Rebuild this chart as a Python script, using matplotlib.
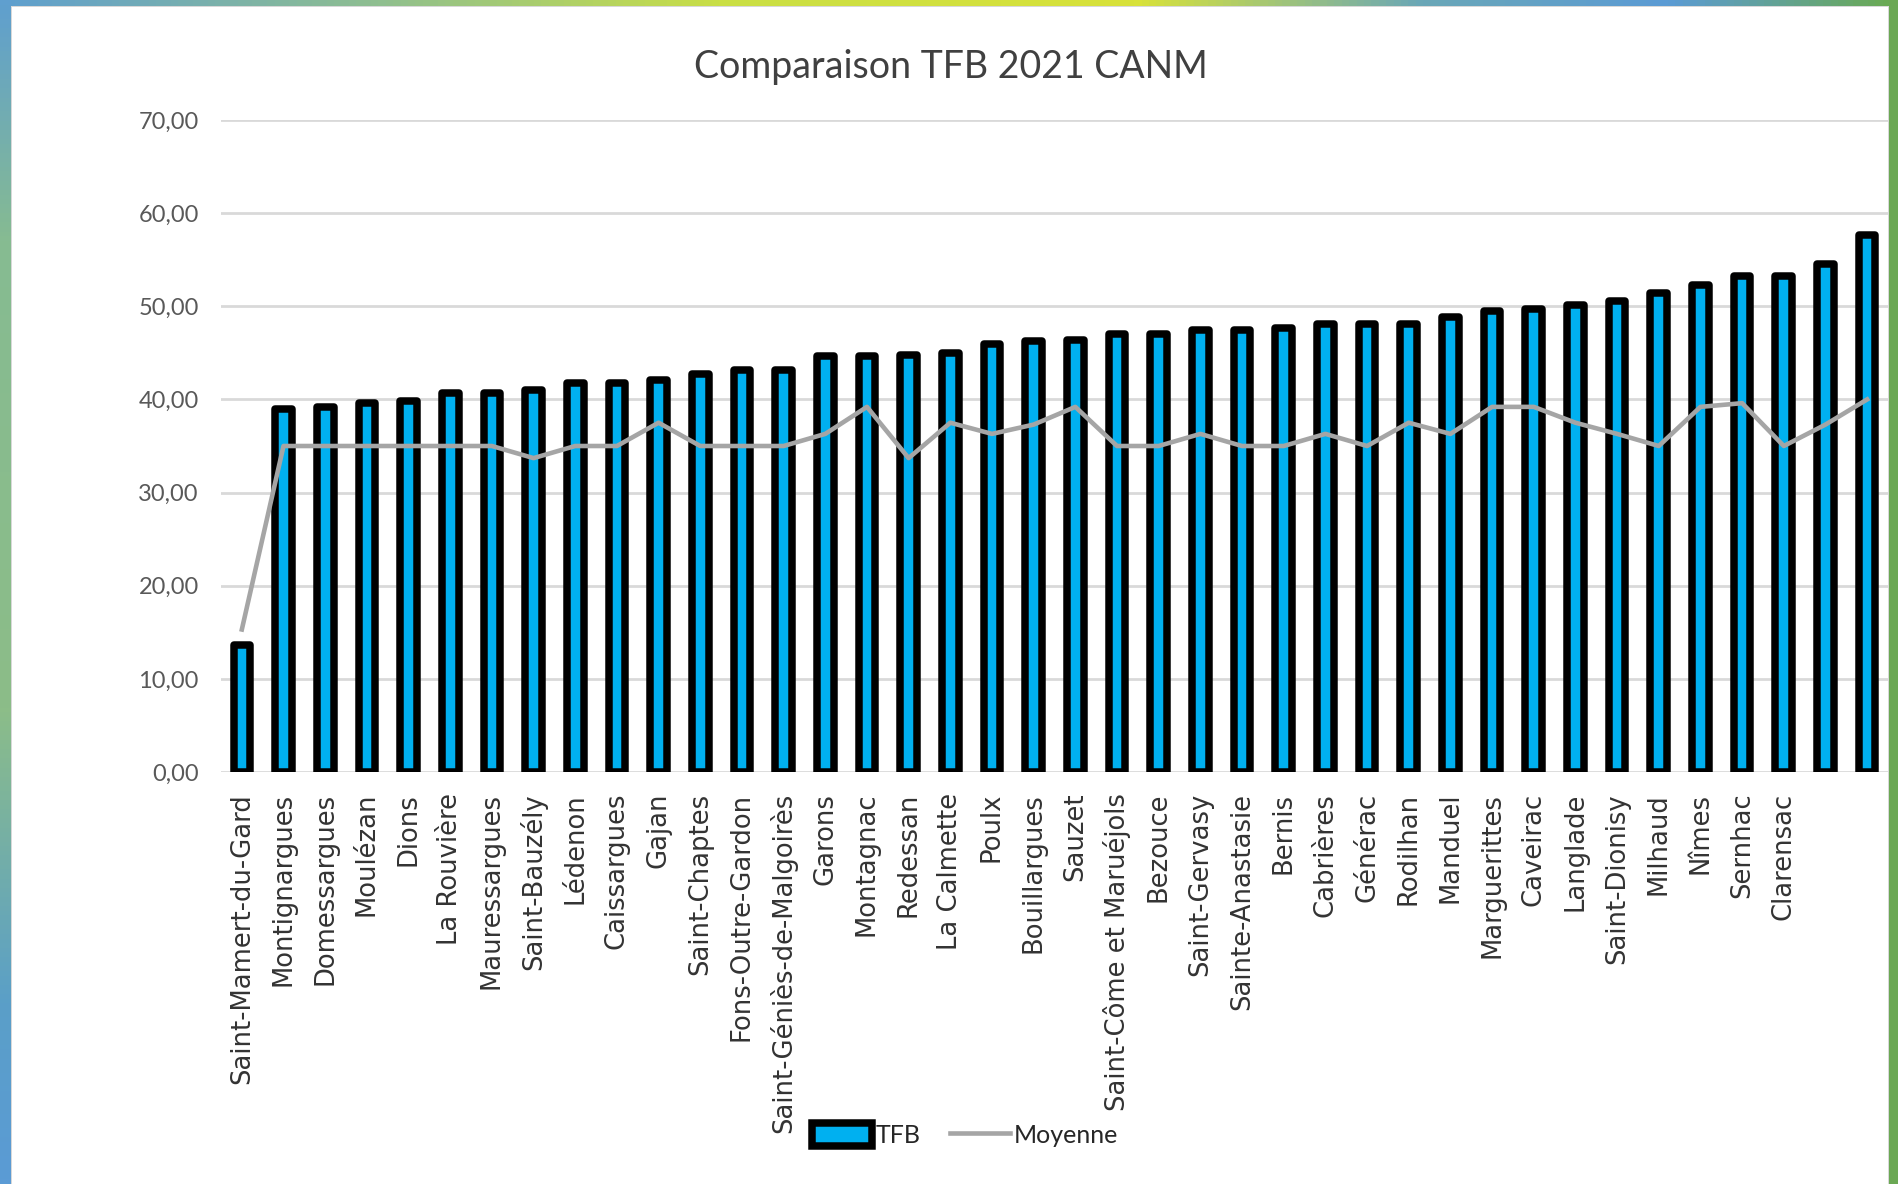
import numpy as np
import matplotlib
matplotlib.use("Agg")
import matplotlib.pyplot as plt
from matplotlib.colors import LinearSegmentedColormap

#------------------------------------------#
#------------------ DATA ------------------#
#------------------------------------------#
communes = ["Saint-Mamert-du-Gard", "Montignargues", "Domessargues", "Moulézan",
            "Dions", "La Rouvière", "Mauressargues", "Saint-Bauzély", "Lédenon",
            "Caissargues", "Gajan", "Saint-Chaptes", "Fons-Outre-Gardon",
            "Saint-Géniès-de-Malgoirès", "Garons", "Montagnac", "Redessan",
            "La Calmette", "Poulx", "Bouillargues", "Sauzet",
            "Saint-Côme et Maruéjols", "Bezouce", "Saint-Gervasy",
            "Sainte-Anastasie", "Bernis", "Cabrières", "Générac", "Rodilhan",
            "Manduel", "Marguerittes", "Caveirac", "Langlade", "Saint-Dionisy",
            "Milhaud", "Nîmes", "Sernhac", "Clarensac", "", ""]

tfb = [13.6, 39.0, 39.2, 39.6, 39.8, 40.7, 40.7, 41.0, 41.8, 41.8,
       42.1, 42.7, 43.2, 43.2, 44.7, 44.7, 44.8, 45.0, 45.9, 46.3,
       46.4, 47.0, 47.0, 47.5, 47.5, 47.7, 48.1, 48.1, 48.1, 48.8,
       49.5, 49.75, 50.1, 50.6, 51.4, 52.3, 53.25, 53.25, 54.5, 57.6]

moyenne = [15.3, 35.0, 35.0, 35.0, 35.0, 35.0, 35.0, 33.7, 35.0, 35.0,
           37.5, 35.0, 35.0, 35.0, 36.3, 39.2, 33.7, 37.5, 36.3, 37.3,
           39.2, 35.0, 35.0, 36.3, 35.0, 35.0, 36.3, 35.0, 37.5, 36.3,
           39.2, 39.2, 37.5, 36.3, 35.0, 39.2, 39.6, 35.0, 37.3, 40.0]

yticks = [0, 10, 20, 30, 40, 50, 60, 70]

narrow = ["Lato", "DejaVu Sans"]

#------------------------------------------#
#--------------- FIGURE -------------------#
#------------------------------------------#
W, H = 1898, 1184
fig = plt.figure(figsize=(W / 100, H / 100), dpi=100)

# gradient frame behind the white chart panel
bg = np.ones((H, W, 3))
top_cmap = LinearSegmentedColormap.from_list(
    "top", [(0.0, "#5f9fcf"), (0.2, "#8fbf8f"), (0.38, "#cadf45"),
            (0.6, "#d8e23a"), (0.75, "#6aa7b7"), (0.88, "#5b9bd5"),
            (1.0, "#6aaa50")])
left_cmap = LinearSegmentedColormap.from_list(
    "left", [(0.0, "#5f9fcf"), (0.2, "#86bb92"), (0.6, "#8cbd88"),
             (0.85, "#5a9fc8"), (1.0, "#5b9bd5")])
bg[:6, :, :] = top_cmap(np.linspace(0, 1, W))[:, :3][None, :, :]
bg[:, :11, :] = left_cmap(np.linspace(0, 1, H))[:, :3][:, None, :]
bg[:, 1889:, :] = np.array([0.42, 0.66, 0.33])
bg[6:, 11, :] = 0.85
bg[6, 11:1889, :] = 0.85
bg[6:, 1888, :] = 0.85
axbg = fig.add_axes([0, 0, 1, 1], zorder=-5)
axbg.imshow(bg, aspect="auto", interpolation="nearest")
axbg.axis("off")

ax = fig.add_axes([221 / W, 1 - 772 / H, (1888 - 221) / W, (772 - 120) / H])
ax.set_facecolor("none")

x = np.arange(len(communes))
bars = ax.bar(x, tfb, width=0.40, color="#00B0F0", edgecolor="black",
              linewidth=5.4, joinstyle="round", label="TFB", zorder=2)
line, = ax.plot(x, moyenne, color="#A5A5A5", linewidth=3.3,
                label="Moyenne", zorder=3)

ax.set_xlim(-0.5, len(communes) - 0.5)
ax.set_ylim(0, 70)
ax.set_yticks(yticks)
ax.set_yticklabels(["%d,00" % v for v in yticks], family=narrow,
                   fontsize=17, color="#595959")
ax.set_xticks(x)
ax.set_xticklabels(communes, rotation=90, fontsize=18.6, color="#333333",
                   family="DejaVu Sans")
ax.tick_params(axis="both", length=0)
ax.tick_params(axis="y", pad=16)
ax.tick_params(axis="x", pad=15)
ax.yaxis.grid(True, color="#D9D9D9", linewidth=2.0, zorder=0)
ax.set_axisbelow(True)
for s in ax.spines.values():
    s.set_visible(False)

fig.text(951 / W, 1 - 67 / H, "Comparaison TFB 2021 CANM", ha="center",
         va="center", fontsize=27, color="#404040", family=narrow)

leg = fig.legend(handles=[bars, line], loc="center",
                 bbox_to_anchor=(965 / W, 1 - 1135 / H), ncol=2,
                 frameon=False, prop={"family": narrow, "size": 18},
                 handlelength=2.4, handleheight=1.0, handletextpad=0.15,
                 columnspacing=1.2)
for t in leg.get_texts():
    t.set_color("#262626")

fig.savefig("out.png", dpi=100)
